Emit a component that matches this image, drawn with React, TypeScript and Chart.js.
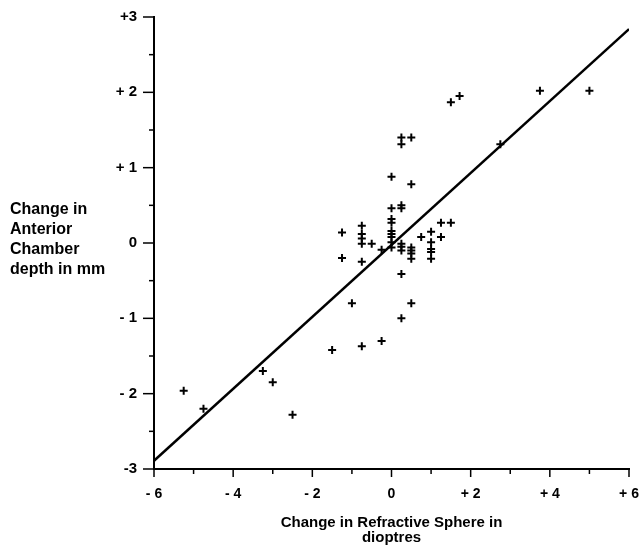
import React, { useEffect, useRef } from "react";
import { Chart, registerables } from "chart.js";

Chart.register(...registerables);

// Measured points: change in refractive sphere (D) vs change in anterior chamber depth (mm)
const sphereChange = [
  -5.25, -4.75, -3.25, -3.0, -2.5, -1.5, -0.75, -0.25, 0.25, -1.0, 0.5, 0.25,
  -1.25, -1.25, -0.75, -0.75, -0.75, -0.75, -0.75, -0.5, -0.25,
  0, 0, 0, 0, 0, 0, 0, 0, 0,
  0.25, 0.25, 0.25, 0.25, 0.25,
  0.5, 0.5, 0.5, 0.5, 0.5,
  0.75, 1.0, 1.0, 1.0, 1.0, 1.0, 1.25, 1.25, 1.5,
  0.25, 0.25, 0.5, 1.5, 1.72, 2.75, 3.75, 5.0,
];
const depthChange = [
  -1.96, -2.2, -1.7, -1.85, -2.28, -1.42, -1.37, -1.3, -1.0, -0.8, -0.8, -0.41,
  0.14, -0.2, 0.23, 0.12, 0.06, -0.01, -0.25, -0.01, -0.09,
  0.88, 0.46, 0.32, 0.27, 0.16, 0.12, 0.08, 0.01, -0.06,
  0.5, 0.46, -0.01, -0.05, -0.1,
  0.78, -0.06, -0.1, -0.14, -0.21,
  0.08, 0.15, 0.01, -0.08, -0.12, -0.21, 0.27, 0.08, 0.27,
  1.4, 1.31, 1.4, 1.87, 1.95, 1.31, 2.02, 2.02,
];

// Regression line end points
const fitX = [-6, 6];
const fitY = [-2.89, 2.84];

// Axis ticks
const xTickValues = [-6, -4, -2, 0, 2, 4, 6];
const xTickLabels = ["- 6", "- 4", "- 2", "0", "+ 2", "+ 4", "+ 6"];
const xTickMarks = [-6, -5, -4, -3, -2, -1, 0, 1, 2, 3, 4, 5, 6];
const yTickValues = [-3, -2, -1, 0, 1, 2, 3];
const yTickLabels = ["-3", "- 2", "- 1", "0", "+ 1", "+ 2", "+3"];
const yTickMarks = [-3, -2.5, -2, -1.5, -1, -0.5, 0, 0.5, 1, 1.5, 2, 2.5, 3];

const xTitle = ["Change in Refractive Sphere in", "dioptres"];
const yTitle = ["Change in", "Anterior", "Chamber", "depth in mm"];

const FONT = "'Liberation Sans', Arial, Helvetica, sans-serif";

const tickMarkPlugin = {
  id: "tickMarks",
  afterDraw(chart: any) {
    const { ctx, chartArea } = chart;
    const x = chart.scales.x;
    const y = chart.scales.y;
    ctx.save();
    ctx.strokeStyle = "#000";
    ctx.lineWidth = 1.5;
    for (const v of yTickMarks) {
      const py = y.getPixelForValue(v);
      const len = Number.isInteger(v) ? 11 : 5;
      ctx.beginPath();
      ctx.moveTo(chartArea.left - len, py);
      ctx.lineTo(chartArea.left, py);
      ctx.stroke();
    }
    for (const v of xTickMarks) {
      const px = x.getPixelForValue(v);
      const len = v % 2 === 0 ? 8 : 5;
      ctx.beginPath();
      ctx.moveTo(px, chartArea.bottom);
      ctx.lineTo(px, chartArea.bottom + len);
      ctx.stroke();
    }
    ctx.restore();
  },
};

const yTitlePlugin = {
  id: "yTitleBlock",
  afterDraw(chart: any) {
    const { ctx } = chart;
    ctx.save();
    ctx.fillStyle = "#000";
    ctx.font = `bold 16px ${FONT}`;
    ctx.textAlign = "left";
    ctx.textBaseline = "middle";
    yTitle.forEach((line, i) => {
      ctx.fillText(line, 10, 210 + i * 19.7);
    });
    ctx.restore();
  },
};

export default function App() {
  const canvasRef = useRef<HTMLCanvasElement | null>(null);

  useEffect(() => {
    if (!canvasRef.current) return;
    const chart = new Chart(canvasRef.current, {
      type: "scatter",
      data: {
        datasets: [
          {
            type: "scatter",
            data: sphereChange.map((v, i) => ({ x: v, y: depthChange[i] })),
            pointStyle: "cross",
            pointRadius: 4,
            pointBorderWidth: 2,
            borderColor: "#000",
            backgroundColor: "#000",
          },
          {
            type: "line",
            data: fitX.map((v, i) => ({ x: v, y: fitY[i] })),
            borderColor: "#000",
            borderWidth: 2.5,
            pointRadius: 0,
            fill: false,
          } as any,
        ],
      },
      options: {
        animation: false,
        responsive: false,
        devicePixelRatio: 1,
        layout: { padding: { left: 0, top: 17, right: 10, bottom: 0 } },
        plugins: {
          legend: { display: false },
          tooltip: { enabled: false },
        },
        scales: {
          x: {
            type: "linear",
            min: -6,
            max: 6,
            afterFit(scale: any) {
              scale.height = 79;
              scale.paddingLeft = 0;
              scale.paddingRight = 0;
            },
            afterBuildTicks(scale: any) {
              scale.ticks = xTickValues.map((v) => ({ value: v }));
            },
            grid: { display: false, drawTicks: false },
            border: { display: true, color: "#000", width: 2 },
            ticks: {
              padding: 17,
              color: "#000",
              font: { family: FONT, weight: "bold", size: 14 },
              callback: (value: any) => {
                const i = xTickValues.indexOf(Number(value));
                return i >= 0 ? xTickLabels[i] : "";
              },
            },
            title: {
              display: true,
              text: xTitle,
              color: "#000",
              font: { family: FONT, weight: "bold", size: 15, lineHeight: 1.05 },
              padding: { top: 0, bottom: 2 },
            },
          },
          y: {
            type: "linear",
            min: -3,
            max: 3,
            afterFit(scale: any) {
              scale.width = 154;
              scale.paddingTop = 0;
              scale.paddingBottom = 0;
            },
            afterBuildTicks(scale: any) {
              scale.ticks = yTickValues.map((v) => ({ value: v }));
            },
            grid: { display: false, drawTicks: false },
            border: { display: true, color: "#000", width: 2 },
            ticks: {
              padding: 17,
              color: "#000",
              font: { family: FONT, weight: "bold", size: 15 },
              callback: (value: any) => {
                const i = yTickValues.indexOf(Number(value));
                return i >= 0 ? yTickLabels[i] : "";
              },
            },
          },
        },
      },
      plugins: [tickMarkPlugin, yTitlePlugin],
    });
    return () => chart.destroy();
  }, []);

  return (
    <div style={{ position: "fixed", left: 0, top: 0, width: 639, height: 548, background: "#fff" }}>
      <canvas ref={canvasRef} width={639} height={548} style={{ display: "block" }} />
    </div>
  );
}
